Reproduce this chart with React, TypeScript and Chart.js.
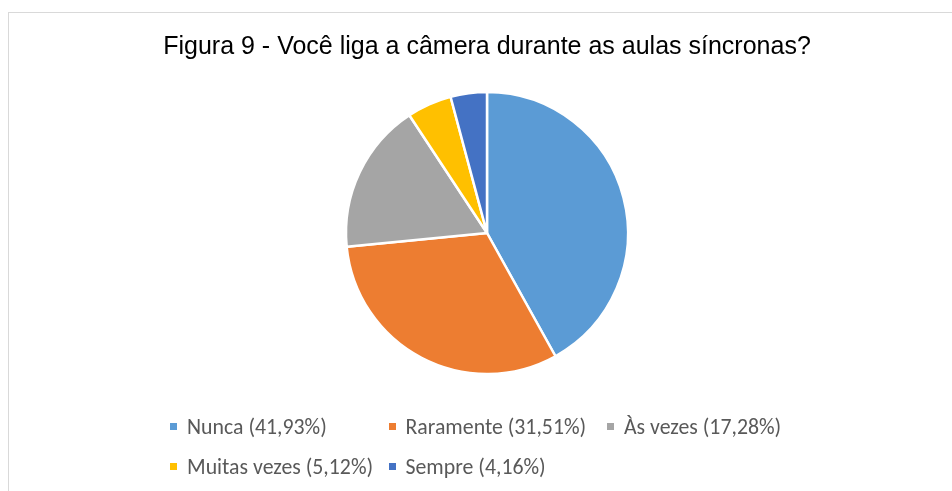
import React, { useEffect, useRef } from "react";
import { Chart, registerables } from "chart.js";

Chart.register(...registerables);

const chartTitle = "Figura 9 - Você liga a câmera durante as aulas síncronas?";
const categories = ["Nunca", "Raramente", "Às vezes", "Muitas vezes", "Sempre"];
const values = [41.93, 31.51, 17.28, 5.12, 4.16];
const colors = ["#5B9BD5", "#ED7D31", "#A5A5A5", "#FFC000", "#4472C4"];

const legendCols = 3;

function fmt(v: number) {
  return v.toFixed(2).replace(".", ",") + "%";
}

export default function App() {
  const ref = useRef<HTMLCanvasElement | null>(null);

  useEffect(() => {
    if (!ref.current) return;
    const chart = new Chart(ref.current, {
      type: "pie",
      data: {
        labels: categories,
        datasets: [
          {
            data: values,
            backgroundColor: colors,
            borderColor: "#FFFFFF",
            borderWidth: 2.5,
          },
        ],
      },
      options: {
        responsive: false,
        animation: false,
        radius: 141,
        layout: { padding: { top: 0, bottom: 98, left: 0, right: 2 } },
        plugins: {
          legend: { display: false },
          tooltip: { enabled: false },
          title: {
            display: true,
            text: chartTitle,
            color: "#000000",
            font: { family: "'Liberation Sans', Arial, sans-serif", size: 25, weight: "normal", lineHeight: 1.2 },
            padding: { top: 18.7, bottom: 11.3 },
          },
        },
      } as any,
    });
    return () => chart.destroy();
  }, []);

  return (
    <div style={{ position: "fixed", inset: 0, overflow: "hidden", background: "#fff" }}>
      <div
        style={{
          position: "absolute",
          left: 8,
          top: 12,
          width: 1000,
          height: 600,
          border: "1px solid #D9D9D9",
          boxSizing: "border-box",
        }}
      >
        <canvas ref={ref} width={958} height={478} style={{ display: "block", width: 958, height: 478 }} />
      </div>
      {categories.map((c, i) => {
        const col = i % legendCols;
        const row = Math.floor(i / legendCols);
        return (
          <div
            key={c}
            style={{
              position: "absolute",
              left: 170 + col * 218.5,
              top: 414 + row * 40,
              height: 24,
              display: "flex",
              alignItems: "center",
              whiteSpace: "nowrap",
              fontFamily: "Carlito, Calibri, Lato, sans-serif",
              fontSize: 21.8,
              color: "#595959",
            }}
          >
            <span style={{ display: "inline-block", width: 7, height: 7, background: colors[i], marginRight: 10 }} />
            <span>{`${c} (${fmt(values[i])})`}</span>
          </div>
        );
      })}
    </div>
  );
}
